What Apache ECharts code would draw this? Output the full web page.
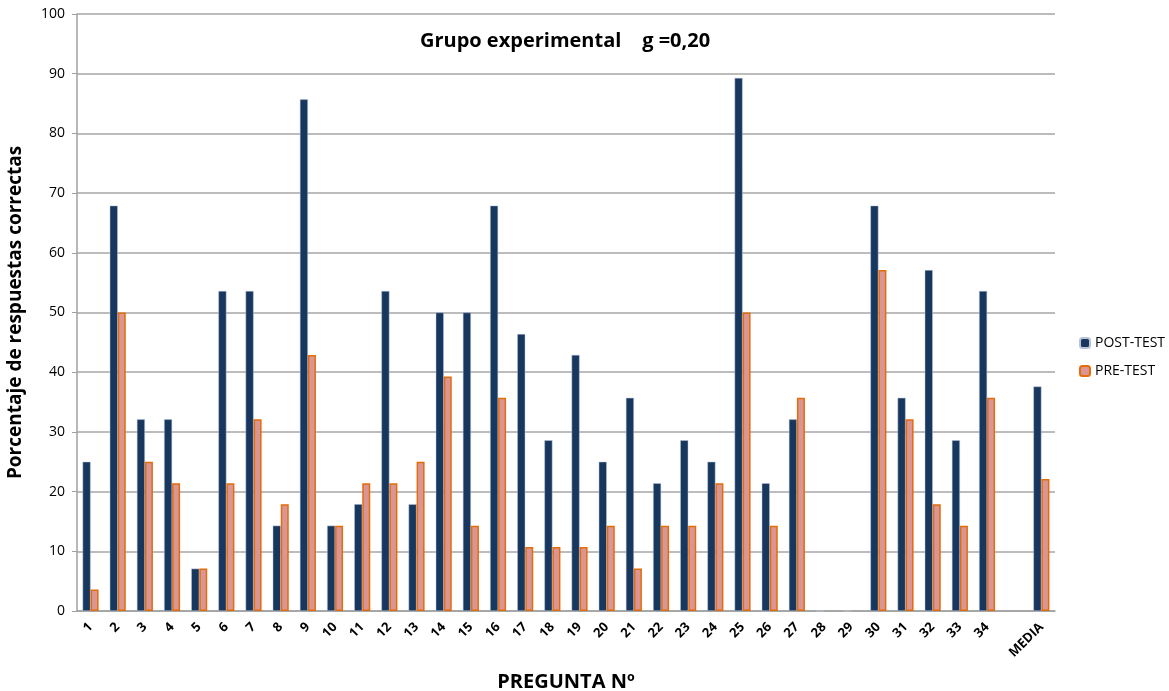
<!DOCTYPE html>
<html>
<head>
<meta charset="utf-8">
<script src="https://cdn.jsdelivr.net/npm/echarts@6/dist/echarts.min.js"></script>
<style>
  html, body { margin: 0; padding: 0; background: #fff; }
  #chart { width: 1169px; height: 691px; }
</style>
</head>
<body>
<div id="chart"></div>
<script>
// hay un hueco vacío entre la pregunta 34 y MEDIA
var preguntas = ['1','2','3','4','5','6','7','8','9','10','11','12','13','14','15','16','17',
  '18','19','20','21','22','23','24','25','26','27','28','29','30','31','32','33','34','','MEDIA']
// POST-TEST (%)
var postTest = [25, 67.9, 32.1, 32.1, 7.1, 53.6, 53.6, 14.3, 85.7, 14.3, 17.9, 53.6, 17.9, 50, 50,
  67.9, 46.4, 28.6, 42.9, 25, 35.7, 21.4, 28.6, 25, 89.3, 21.4, 32.1, 0, 0, 67.9, 35.7, 57.1, 28.6, 53.6, '-', 37.6]
// PRE-TEST (%)
var preTest = [3.6, 50, 25, 21.4, 7.1, 21.4, 32.1, 17.9, 42.9, 14.3, 21.4, 21.4, 25, 39.3, 14.3,
  35.7, 10.7, 10.7, 10.7, 14.3, 7.1, 14.3, 14.3, 21.4, 50, 14.3, 35.7, 0, 0, 57.1, 32.1, 17.9, 14.3, 35.7, '-', 22.1]
var yTicks = [0, 10, 20, 30, 40, 50, 60, 70, 80, 90, 100]

var chart = echarts.init(document.getElementById('chart'))
var fuente = '"Open Sans", "Liberation Sans", sans-serif'

// los ceros no llevan borde (no se dibuja nada)
function sinBordeEnCero(arr) {
  return arr.map(function (v) {
    return v === 0 ? { value: v, itemStyle: { borderWidth: 0 } } : v
  })
}

chart.setOption({
  animation: false,
  backgroundColor: '#fff',
  textStyle: { fontFamily: fuente },
  title: {
    text: 'Grupo experimental    g =0,20',
    left: 560, top: 26, textAlign: 'center',
    textStyle: { fontSize: 20, fontWeight: 'bold', color: '#000', fontFamily: fuente }
  },
  legend: {
    orient: 'vertical',
    left: 1074, top: 331,
    itemWidth: 10, itemHeight: 10, itemGap: 14,
    textStyle: { fontSize: 14, color: '#000', fontFamily: fuente },
    data: ['POST-TEST', 'PRE-TEST']
  },
  grid: { left: 77, right: 114, top: 14, bottom: 80, outerBoundsMode: 'none', containLabel: false },
  xAxis: {
    type: 'category',
    data: preguntas,
    name: 'PREGUNTA Nº',
    nameLocation: 'middle',
    nameGap: 61,
    nameTextStyle: { fontSize: 20, fontWeight: 'bold', color: '#000' },
    axisLine: { lineStyle: { color: '#a0a0a0', width: 1.5 } },
    axisTick: { show: false },
    axisLabel: {
      interval: 0, rotate: 45, fontSize: 13, fontWeight: 'bold', color: '#000', margin: 14
    }
  },
  yAxis: {
    type: 'value',
    min: yTicks[0], max: yTicks[yTicks.length - 1], interval: 10,
    name: 'Porcentaje de respuestas correctas',
    nameLocation: 'middle',
    nameGap: 52,
    nameRotate: 90,
    nameTextStyle: { fontSize: 19, fontWeight: 'bold', color: '#000' },
    axisLine: { show: true, lineStyle: { color: '#a0a0a0', width: 1.5 } },
    axisTick: { show: true, length: 5, inside: false, lineStyle: { color: '#a0a0a0' } },
    axisLabel: { fontSize: 14, color: '#000', margin: 12 },
    splitLine: { lineStyle: { color: '#a6a6a6', width: 1.5 } }
  },
  series: [
    {
      name: 'POST-TEST', type: 'bar', data: postTest,
      barWidth: 8, barGap: '0%',
      itemStyle: { color: '#17375e', borderColor: '#b9c4d6', borderWidth: 0.5 }
    },
    {
      name: 'PRE-TEST', type: 'bar', data: sinBordeEnCero(preTest),
      barWidth: 8, barGap: '0%',
      itemStyle: { color: '#d99694', borderColor: '#e46c0a', borderWidth: 1.5 }
    }
  ]
})
</script>
</body>
</html>
